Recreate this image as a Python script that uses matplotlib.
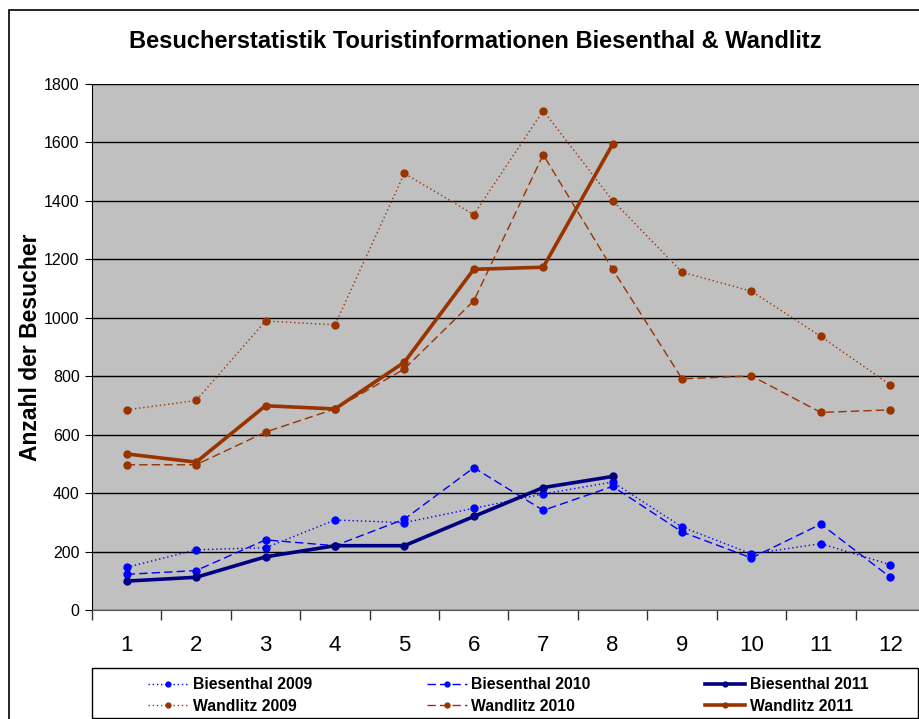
import matplotlib
matplotlib.use("Agg")
import matplotlib.pyplot as plt
from matplotlib.patches import Rectangle
from matplotlib.ticker import FixedLocator

plt.rcParams['font.family'] = ['Liberation Sans', 'DejaVu Sans']

months = [1, 2, 3, 4, 5, 6, 7, 8, 9, 10, 11, 12]
month_labels = ["1", "2", "3", "4", "5", "6", "7", "8", "9", "10", "11", "12"]

biesenthal_2009 = [146, 206, 213, 308, 299, 348, 397, 438, 284, 192, 227, 155]
biesenthal_2010 = [122, 135, 240, 220, 311, 487, 341, 423, 267, 178, 294, 112]
biesenthal_2011 = [99, 112, 182, 220, 220, 320, 419, 457]
wandlitz_2009 = [685, 717, 989, 976, 1494, 1353, 1709, 1401, 1156, 1091, 936, 770]
wandlitz_2010 = [497, 497, 609, 688, 825, 1058, 1558, 1166, 791, 801, 676, 685]
wandlitz_2011 = [534, 506, 699, 688, 848, 1166, 1173, 1594]

blue = "#0000FF"
navy = "#000080"
brown = "#993300"

W, H = 920, 719
fig = plt.figure(figsize=(W / 100, H / 100), dpi=100)
fig.patch.set_facecolor("white")

# chart border
fig.add_artist(Rectangle((9 / W, -0.05), 1.2, 1 - 10 / H + 0.05, transform=fig.transFigure,
                         fill=False, edgecolor="black", linewidth=1.2))

ax = fig.add_axes([92 / W, 1 - 610 / H, (925 - 92) / W, (610 - 84) / H])
ax.set_facecolor("#C0C0C0")

ms = 5
h1, = ax.plot(months, biesenthal_2009, color=blue, linestyle=(0, (1, 2)), linewidth=1.0,
              marker="o", markersize=ms, label="Biesenthal 2009")
h2, = ax.plot(months, biesenthal_2010, color=blue, linestyle=(0, (6, 3)), linewidth=1.0,
              marker="o", markersize=ms, label="Biesenthal 2010")
h3, = ax.plot(months[:len(biesenthal_2011)], biesenthal_2011, color=navy, linestyle="-",
              linewidth=2.6, marker="o", markersize=ms, label="Biesenthal 2011")
h4, = ax.plot(months, wandlitz_2009, color=brown, linestyle=(0, (1, 2)), linewidth=1.0,
              marker="o", markersize=ms, label="Wandlitz 2009")
h5, = ax.plot(months, wandlitz_2010, color=brown, linestyle=(0, (6, 3)), linewidth=1.0,
              marker="o", markersize=ms, label="Wandlitz 2010")
h6, = ax.plot(months[:len(wandlitz_2011)], wandlitz_2011, color=brown, linestyle="-",
              linewidth=2.6, marker="o", markersize=ms, label="Wandlitz 2011")

ax.set_xlim(0.5, 12.5)
ax.set_ylim(0, 1800)
ax.set_yticks(range(0, 1801, 200))
ax.yaxis.grid(True, color="black", linewidth=1.0)
ax.set_axisbelow(True)

ax.set_xticks(months)
ax.set_xticklabels(month_labels, fontsize=16)
ax.tick_params(axis="x", which="major", length=0, pad=18)
ax.xaxis.set_minor_locator(FixedLocator([m + 0.5 for m in range(0, 13)]))
ax.tick_params(axis="x", which="minor", length=7, direction="out", width=1, color="#333333")
ax.tick_params(axis="y", labelsize=11.5, length=5, direction="out", pad=4)

for s in ["top", "right"]:
    ax.spines[s].set_visible(False)
ax.spines["left"].set_color("black")
ax.spines["bottom"].set_color("#555555")

ax.set_ylabel("Anzahl der Besucher", fontsize=16.5, fontweight="bold", labelpad=1)

fig.text(475 / W, 1 - 42 / H, "Besucherstatistik Touristinformationen Biesenthal & Wandlitz",
         ha="center", va="center", fontsize=17, fontweight="bold")

# legend box
fig.add_artist(Rectangle((92 / W, 1 / H), (918 - 92) / W, 50 / H, transform=fig.transFigure,
                         fill=False, edgecolor="black", linewidth=1.0))

handles = [h1, h4, h2, h5, h3, h6]
labels = [h.get_label() for h in handles]
leg = fig.legend(handles, labels, ncol=3, loc="center left",
                 bbox_to_anchor=(148 / W, 1 - 695.5 / H),
                 prop={"weight": "bold", "size": 11.3}, frameon=False,
                 handlelength=2.55, handletextpad=0.3, columnspacing=7.3,
                 borderaxespad=0, labelspacing=0.42, borderpad=0, markerscale=0.7)

fig.savefig("out.png", dpi=100)
